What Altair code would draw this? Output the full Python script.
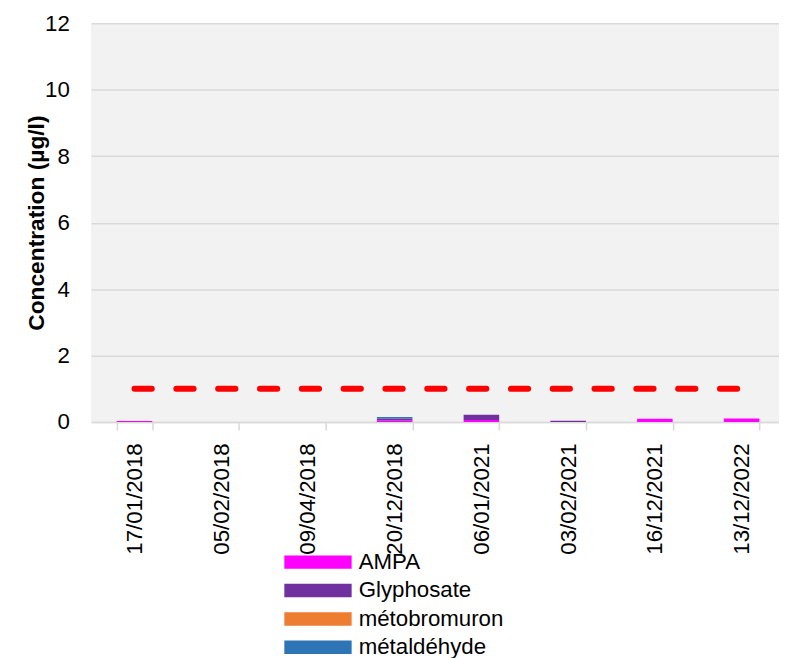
import altair as alt
import pandas as pd

dates = ["17/01/2018", "05/02/2018", "09/04/2018", "20/12/2018",
         "06/01/2021", "03/02/2021", "16/12/2021", "13/12/2022"]
substances = ["AMPA", "Glyphosate", "métobromuron", "métaldéhyde"]
colors = ["#FF00FF", "#7030A0", "#ED7D31", "#2E75B6"]
ampa = [0.03, 0.0, 0.0, 0.05, 0.06, 0.0, 0.10, 0.11]
glyphosate = [0.0, 0.0, 0.0, 0.06, 0.16, 0.04, 0.0, 0.0]
metobromuron = [0.0, 0.0, 0.0, 0.0, 0.0, 0.0, 0.0, 0.0]
metaldehyde = [0.0, 0.0, 0.0, 0.04, 0.0, 0.0, 0.0, 0.0]
limit = [1, 1, 1, 1, 1, 1, 1, 1]
y_ticks = [0, 2, 4, 6, 8, 10, 12]

series = [ampa, glyphosate, metobromuron, metaldehyde]
rows = []
for k, (name, vals) in enumerate(zip(substances, series)):
    for d, v in zip(dates, vals):
        if v > 0:
            rows.append({"date": d, "substance": name, "value": v, "k": k})
bars_df = pd.DataFrame(rows)
limit_df = pd.DataFrame({"date": dates, "limit": limit})

FONT = "Liberation Sans"

x_scale = alt.Scale(domain=dates, range=[0, 701], paddingInner=0.59, paddingOuter=0.295)
y_scale = alt.Scale(domain=[0, 12])

x_axis = alt.Axis(title=None, labelAngle=-90, labelAlign="right", labelBaseline="middle",
                  labelFontSize=22.5, labelFont=FONT, labelColor="black", labelPadding=13,
                  tickBand="extent", tickSize=8, tickColor="#D9D9D9", tickWidth=1.5,
                  domainColor="#D9D9D9", domainWidth=1.5, grid=False)
y_axis = alt.Axis(title="Concentration (µg/l)", values=y_ticks, labelFontSize=22.5,
                  labelFont=FONT, labelColor="black", labelPadding=22, ticks=False,
                  domain=False, grid=True, gridColor="#D9D9D9", gridWidth=1.5,
                  titleFont=FONT, titleFontSize=23, titleFontWeight="bold",
                  titleColor="black", titlePadding=-4)

bars = alt.Chart(bars_df).mark_bar().encode(
    x=alt.X("date:N", scale=x_scale, axis=x_axis, sort=dates),
    y=alt.Y("value:Q", scale=y_scale, axis=y_axis, stack="zero"),
    color=alt.Color("substance:N",
                    scale=alt.Scale(domain=substances, range=colors),
                    sort=substances,
                    legend=alt.Legend(title=None, orient="none", legendX=217.7, legendY=533,
                                      symbolType="M-3,-0.6H3V0.6H-3Z", symbolSize=514,
                                      symbolStrokeWidth=0, labelFont=FONT, labelFontSize=22.5,
                                      labelColor="black", labelOffset=29.6, rowPadding=5.7,
                                      padding=0)),
    order=alt.Order("k:Q", sort="ascending"),
)

line = alt.Chart(limit_df).mark_line(color="#FF0000", strokeWidth=6, strokeCap="round",
                                     strokeDash=[17.5, 24.75]).encode(
    x=alt.X("date:N", scale=x_scale, sort=dates),
    y=alt.Y("limit:Q", scale=y_scale),
)

chart = alt.layer(bars, line).properties(
    width=695, height=403,
    autosize=alt.AutoSizeParams(type="none"),
    padding={"left": 84, "top": 12, "right": 0, "bottom": 235},
).configure_view(fill="#F2F2F2", stroke=None)

chart.save("out.html", embed_options={"renderer": "svg", "actions": False})
